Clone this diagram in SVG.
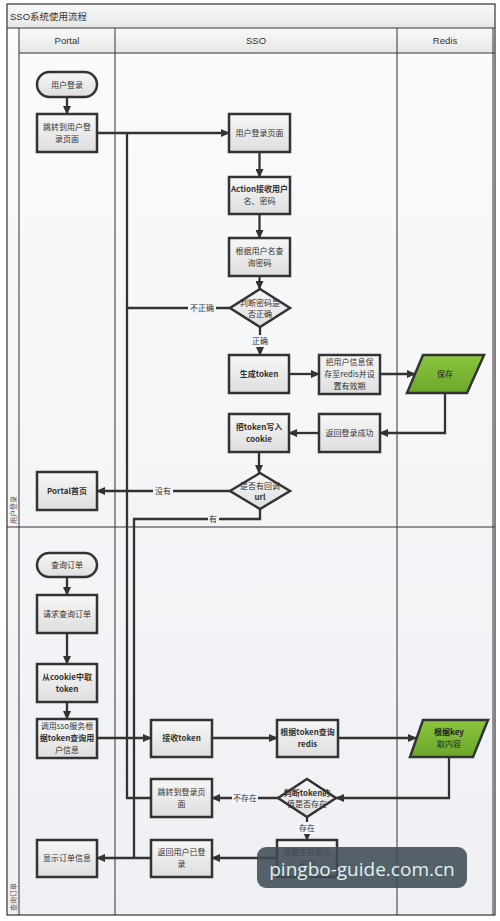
<svg xmlns="http://www.w3.org/2000/svg" width="500" height="921" viewBox="0 0 500 921">
<defs>
<linearGradient id="gBox" x1="0" y1="0" x2="0" y2="1"><stop offset="0" stop-color="#f7f7f7"/><stop offset="1" stop-color="#dedede"/></linearGradient>
<linearGradient id="gGreen" x1="0" y1="0" x2="0" y2="1"><stop offset="0" stop-color="#8cc63f"/><stop offset="1" stop-color="#6aa62a"/></linearGradient>
<linearGradient id="gHead" x1="0" y1="0" x2="0" y2="1"><stop offset="0" stop-color="#fafafa"/><stop offset="1" stop-color="#e6e6e6"/></linearGradient>
<linearGradient id="gLane" x1="0" y1="0" x2="0" y2="1"><stop offset="0" stop-color="#fbfbfc"/><stop offset="1" stop-color="#eff0f4"/></linearGradient>
<marker id="arr" markerWidth="9" markerHeight="8" refX="8" refY="4" orient="auto" markerUnits="userSpaceOnUse"><path d="M0,0 L9,4 L0,8 Z" fill="#333"/></marker>
<style>
.frame{fill:none;stroke:#333;stroke-width:1.2}
.thin{stroke:#333;stroke-width:1}
.box{fill:url(#gBox);stroke:#333;stroke-width:2.5}
.green{fill:url(#gGreen);stroke:#333;stroke-width:2.5}
.t{font-family:"Noto Sans CJK SC","Liberation Sans",sans-serif;font-size:8px;fill:#333;text-anchor:middle}
.tg{font-family:"Noto Sans CJK SC","Liberation Sans",sans-serif;font-size:8px;fill:#222;text-anchor:middle}
.hd{font-family:"Liberation Sans","Noto Sans CJK SC",sans-serif;font-size:9.5px;fill:#333;text-anchor:middle}
.lb{font-family:"Noto Sans CJK SC","Liberation Sans",sans-serif;font-size:8px;fill:#333;text-anchor:middle}
.lane{font-family:"Noto Sans CJK SC",sans-serif;font-size:7px;fill:#555;text-anchor:start}
.c{fill:none;stroke:#333;stroke-width:2.3}
.ca{fill:none;stroke:#333;stroke-width:2.3;marker-end:url(#arr)}
.lbg{fill:#f4f5f8}
</style>
</defs>
<rect x="0" y="0" width="500" height="921" fill="#ffffff"/>
<g id="pool">
<rect x="7" y="4" width="488" height="911" fill="url(#gLane)"/>
<rect x="7" y="4" width="488" height="24" fill="url(#gHead)"/>
<rect x="19" y="28" width="476" height="25" fill="url(#gHead)"/>
<rect x="7" y="4" width="488" height="911" class="frame"/>
<line x1="7" y1="28" x2="495" y2="28" class="thin"/>
<line x1="19" y1="53" x2="495" y2="53" class="thin"/>
<line x1="19" y1="28" x2="19" y2="915" class="thin"/>
<line x1="115" y1="28" x2="115" y2="915" class="thin"/>
<line x1="397" y1="28" x2="397" y2="915" class="thin"/>
<line x1="493" y1="28" x2="493" y2="915" class="thin"/>
<line x1="7" y1="527" x2="495" y2="527" class="thin"/>
<text x="10" y="20" font-family="Liberation Sans,'Noto Sans CJK SC',sans-serif" font-size="9.5" fill="#333">SSO系统使用流程</text>
<text x="67" y="44" class="hd">Portal</text>
<text x="256" y="44" class="hd">SSO</text>
<text x="445" y="44" class="hd" font-size="7">Redis</text>
<text class="lane" transform="translate(15.5,524) rotate(-90)">用户登录</text>
<text class="lane" transform="translate(15.5,911) rotate(-90)">查询订单</text>
</g>
<g id="connectors">
<path class="ca" d="M67,97 V114"/>
<path class="ca" d="M97,133 H229"/>
<path class="ca" d="M259.5,152 V177"/>
<path class="ca" d="M259.5,214 V238"/>
<path class="ca" d="M259.5,276 V289"/>
<path class="c" d="M230,308 H127 V133"/>
<path class="ca" d="M260,327 V355"/>
<path class="ca" d="M289,374 H319"/>
<path class="ca" d="M380,374 H415"/>
<path class="ca" d="M445,393 V433 H380"/>
<path class="ca" d="M319,433 H289"/>
<path class="ca" d="M259,452 V473"/>
<path class="ca" d="M230,491 H97"/>
<path class="c" d="M260,509 V519 H134 V858"/>
<path class="ca" d="M67,577 V595"/>
<path class="ca" d="M67,633 V664"/>
<path class="ca" d="M67,702 V719"/>
<path class="ca" d="M97,738 H151"/>
<path class="ca" d="M212,738 H277"/>
<path class="ca" d="M338,738 H416"/>
<path class="ca" d="M449,757 V798 H336"/>
<path class="ca" d="M278,798 H212"/>
<path class="c" d="M151,798 H127 V308"/>
<path class="ca" d="M307,817 V840"/>
<path class="ca" d="M277,858 H212"/>
<path class="ca" d="M151,858 H97"/>
<rect class="lbg" x="188" y="302" width="28" height="12"/>
<text class="lb" x="202" y="311">不正确</text>
<rect class="lbg" x="250" y="335" width="20" height="12"/>
<text class="lb" x="260" y="344">正确</text>
<rect class="lbg" x="153" y="485" width="20" height="12"/>
<text class="lb" x="163" y="494">没有</text>
<rect class="lbg" x="208" y="513" width="11" height="12"/>
<text class="lb" x="213" y="522">有</text>
<rect class="lbg" x="232" y="792" width="26" height="12"/>
<text class="lb" x="245" y="801">不存在</text>
<rect class="lbg" x="297" y="822" width="20" height="12"/>
<text class="lb" x="307" y="831">存在</text>
</g>
<g id="n_login_start"><rect class="box" x="37" y="72" width="60" height="25" rx="12.5"/><text class="t" x="67" y="87.5">用户登录</text></g>
<g id="n_jump_login"><rect class="box" x="37" y="114" width="60" height="38"/><text class="t" x="67" y="130">跳转到用户登</text><text class="t" x="67" y="142">录页面</text></g>
<g id="n_login_page"><rect class="box" x="229" y="114" width="61" height="38"/><text class="t" x="259.5" y="136">用户登录页面</text></g>
<g id="n_action"><rect class="box" x="229" y="177" width="61" height="37"/><text class="t" x="259.5" y="192" font-weight="bold">Action接收用户</text><text class="t" x="259.5" y="204">名、密码</text></g>
<g id="n_query_pwd"><rect class="box" x="229" y="238" width="61" height="38"/><text class="t" x="259.5" y="254">根据用户名查</text><text class="t" x="259.5" y="266">询密码</text></g>
<g id="d_check_pwd"><polygon class="box" points="260,289 290,308 260,327 230,308"/><text class="t" x="260" y="306">判断密码是</text><text class="t" x="260" y="317">否正确</text></g>
<g id="n_gen_token"><rect class="box" x="229" y="355" width="60" height="38"/><text class="t" x="259" y="377" font-weight="bold">生成token</text></g>
<g id="n_save_redis"><rect class="box" x="319" y="355" width="61" height="39"/><text class="t" x="349.5" y="365">把用户信息保</text><text class="t" x="349.5" y="377">存至redis并设</text><text class="t" x="349.5" y="389">置有效期</text></g>
<g id="p_save"><polygon class="green" points="423,355 484,355 467,393 407,393"/><text class="tg" x="445" y="377">保存</text></g>
<g id="n_return_success"><rect class="box" x="319" y="414" width="61" height="38"/><text class="t" x="349.5" y="436">返回登录成功</text></g>
<g id="n_write_cookie"><rect class="box" x="229" y="414" width="60" height="38"/><text class="t" x="259" y="430" font-weight="bold">把token写入</text><text class="t" x="259" y="442" font-weight="bold">cookie</text></g>
<g id="d_callback"><polygon class="box" points="260,473 290,491 260,509 230,491"/><text class="t" x="260" y="489">是否有回调</text><text class="t" x="260" y="500" font-weight="bold">url</text></g>
<g id="n_portal_home"><rect class="box" x="37" y="472" width="60" height="38"/><text class="t" x="67" y="494" font-weight="bold">Portal首页</text></g>
<g id="n_query_order"><rect class="box" x="37" y="553" width="60" height="24" rx="12"/><text class="t" x="67" y="568">查询订单</text></g>
<g id="n_req_order"><rect class="box" x="37" y="595" width="60" height="38"/><text class="t" x="67" y="617">请求查询订单</text></g>
<g id="n_cookie_token"><rect class="box" x="37" y="664" width="60" height="38"/><text class="t" x="67" y="680" font-weight="bold">从cookie中取</text><text class="t" x="67" y="692" font-weight="bold">token</text></g>
<g id="n_call_sso"><rect class="box" x="37" y="719" width="60" height="39"/><text class="t" x="67" y="729">调用sso服务根</text><text class="t" x="67" y="741" font-weight="bold">据token查询用</text><text class="t" x="67" y="753">户信息</text></g>
<g id="n_recv_token"><rect class="box" x="151" y="720" width="61" height="37"/><text class="t" x="181.5" y="741" font-weight="bold">接收token</text></g>
<g id="n_query_redis"><rect class="box" x="277" y="720" width="61" height="37"/><text class="t" x="307.5" y="735" font-weight="bold">根据token查询</text><text class="t" x="307.5" y="747" font-weight="bold">redis</text></g>
<g id="p_key"><polygon class="green" points="423,720 488,720 473,757 410,757"/><text class="tg" x="449" y="735" font-weight="bold">根据key</text><text class="tg" x="449" y="747">取内容</text></g>
<g id="d_token_exists"><polygon class="box" points="307,779 336,798 307,817 278,798"/><text class="t" x="307" y="796" font-weight="bold">判断token的</text><text class="t" x="307" y="807">值是否存在</text></g>
<g id="n_jump_login2"><rect class="box" x="151" y="779" width="61" height="38"/><text class="t" x="181.5" y="795">跳转到登录页</text><text class="t" x="181.5" y="807">面</text></g>
<g id="n_adjust"><rect class="box" x="277" y="840" width="60" height="37"/><text class="t" x="307" y="855">调整生存期为</text><text class="t" x="307" y="867">初始</text></g>
<g id="n_return_logged"><rect class="box" x="151" y="840" width="61" height="37"/><text class="t" x="181.5" y="855">返回用户已登</text><text class="t" x="181.5" y="867">录</text></g>
<g id="n_show_order"><rect class="box" x="37" y="840" width="60" height="37"/><text class="t" x="67" y="861">显示订单信息</text></g>
<g id="watermark"><rect x="257" y="847" width="210" height="41" rx="9" fill="#414b55" fill-opacity="0.88"/><text x="362" y="876" font-family="'Open Sans','DejaVu Sans',sans-serif" font-size="19" fill="#dff2f0" text-anchor="middle">pingbo-guide.com.cn</text></g>
</svg>
